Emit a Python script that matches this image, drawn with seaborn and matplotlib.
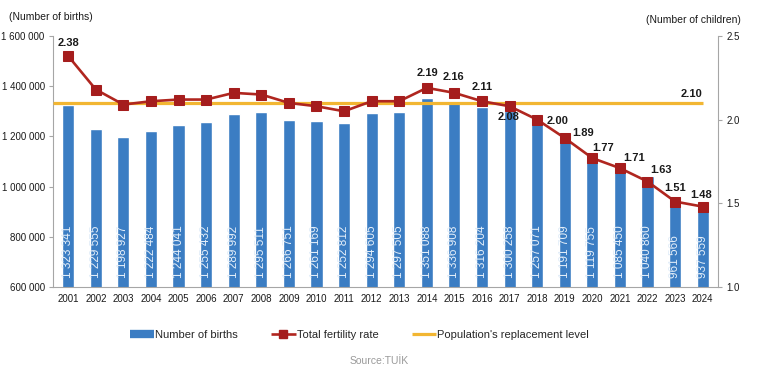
import numpy as np
import pandas as pd
import seaborn as sns
import matplotlib.pyplot as plt
from matplotlib.lines import Line2D
from matplotlib.ticker import FuncFormatter, FixedLocator

years = [str(y) for y in range(2001, 2025)]
births = [1323341, 1229555, 1198927, 1222484, 1244041, 1255432, 1289992, 1295511,
          1266751, 1261169, 1252812, 1294605, 1297505, 1351088, 1336908, 1316204,
          1300258, 1257071, 1191709, 1119755, 1085450, 1040860, 961566, 937559]
tfr = [2.38, 2.18, 2.09, 2.11, 2.12, 2.12, 2.16, 2.15, 2.10, 2.08, 2.05, 2.11,
       2.11, 2.19, 2.16, 2.11, 2.08, 2.00, 1.89, 1.77, 1.71, 1.63, 1.51, 1.48]
replacement = 2.10
labelled_years = ["2001", "2014", "2015", "2016", "2017", "2018", "2019",
                  "2020", "2021", "2022", "2023", "2024"]

# label offsets in pixels (dx, dy)
offsets = {"2001": (0, 13), "2014": (1, 15), "2015": (-1, 16), "2016": (0, 14),
           "2017": (-1, -11), "2018": (20, -1), "2019": (18, 5), "2020": (11, 10),
           "2021": (14, 10), "2022": (14, 12), "2023": (0, 14), "2024": (-2, 12)}

blue = "#3b7dc3"
red = "#b0261f"
gold = "#f2b632"

sns.set_style("white")
plt.rcParams['font.family'] = ['Liberation Sans', 'DejaVu Sans']

df = pd.DataFrame({"year": years, "births": births, "tfr": tfr})
df["idx"] = range(len(df))

fig = plt.figure(figsize=(7.58, 3.75), dpi=100)
ax = fig.add_axes([0.07, 0.235, 0.877, 0.669])

sns.barplot(data=df, x="year", y="births", color=blue, width=0.44,
            saturation=1, ax=ax)
ax.set_ylim(600000, 1600000)
ax.set_xlim(-0.55, 23.55)
ax.yaxis.set_major_formatter(FuncFormatter(lambda v, p: f"{int(v):,}".replace(",", " ")))
ax.set_yticks(np.arange(600000, 1600001, 200000))
ax.set_xlabel("")
ax.set_ylabel("")

for i, b in enumerate(births):
    ax.text(i, 634000, f"{b:,}".replace(",", " "), rotation=90, ha="center",
            va="bottom", color="#e3eef9", fontsize=8.5)

ax2 = ax.twinx()
ax2.hlines(replacement, -0.55, 23.0, color=gold, lw=2.3, zorder=3)
sns.lineplot(data=df, x="idx", y="tfr", color=red, lw=1.9, marker="s",
             markersize=6.5, markeredgecolor="#a51d1d", markerfacecolor="#a51d1d",
             ax=ax2, zorder=4)
ax2.set_ylim(1.0, 2.5)
ax2.set_xlim(-0.55, 23.55)
ax2.set_yticks([1.0, 1.5, 2.0, 2.5])
ax2.yaxis.set_major_formatter(FuncFormatter(lambda v, p: f"{v:.1f}"))
ax2.set_ylabel("")
ax2.set_xlabel("")

for i, (y, v) in enumerate(zip(years, tfr)):
    if y in labelled_years:
        dx, dy = offsets[y]
        ax2.annotate(f"{v:.2f}", (i, v), xytext=(dx * 0.72, dy * 0.72),
                     textcoords="offset points", ha="center", va="center",
                     fontsize=8, fontweight="bold", color="#1a1a1a", zorder=5)
ax2.annotate(f"{replacement:.2f}", (22.6, replacement), xytext=(0, 9 * 0.72),
             textcoords="offset points", ha="center", va="center",
             fontsize=8, fontweight="bold", color="#1a1a1a")

# spines and ticks
for a in (ax, ax2):
    a.spines["top"].set_visible(False)
    for s in ("left", "right", "bottom"):
        a.spines[s].set_color("#a6a6a6")
        a.spines[s].set_linewidth(0.8)
ax.spines["right"].set_visible(False)
ax2.spines["left"].set_visible(False)
ax2.spines["bottom"].set_visible(False)

ax.tick_params(axis="y", labelsize=7, length=3, pad=3, labelcolor="#1a1a1a", color="#a6a6a6")
ax2.tick_params(axis="y", labelsize=7, length=3, pad=3, labelcolor="#1a1a1a", color="#a6a6a6")
ax.tick_params(axis="x", which="major", length=0, labelsize=7, pad=5, labelcolor="#1a1a1a")
ax.xaxis.set_minor_locator(FixedLocator(np.arange(-0.5, 24.0, 1.0)))
ax.tick_params(axis="x", which="minor", length=4, color="#a6a6a6", width=0.8)

fig.text(0.012, 0.955, "(Number of births)", fontsize=7.5, color="#1a1a1a", va="center")
fig.text(0.978, 0.947, "(Number of children)", fontsize=7.5, color="#1a1a1a",
         va="center", ha="right")

handles = [Line2D([], [], color=blue, lw=6, solid_capstyle="butt"),
           Line2D([], [], color=red, lw=1.9, marker="s", markersize=6,
                  markerfacecolor="#a51d1d", markeredgecolor="#a51d1d",
                  solid_capstyle="butt"),
           Line2D([], [], color=gold, lw=2.3, solid_capstyle="butt")]
fig.legend(handles, ["Number of births", "Total fertility rate",
                     "Population's replacement level"],
           loc="center", bbox_to_anchor=(0.474, 0.107), ncol=3, frameon=False,
           fontsize=8, handlelength=2.2, handletextpad=0.1, columnspacing=3.0)

fig.text(0.5, 0.037, "Source:TUİK", ha="center", va="center", fontsize=7.5,
         color="#9a9a9a")

fig.savefig("out.png", dpi=100)
